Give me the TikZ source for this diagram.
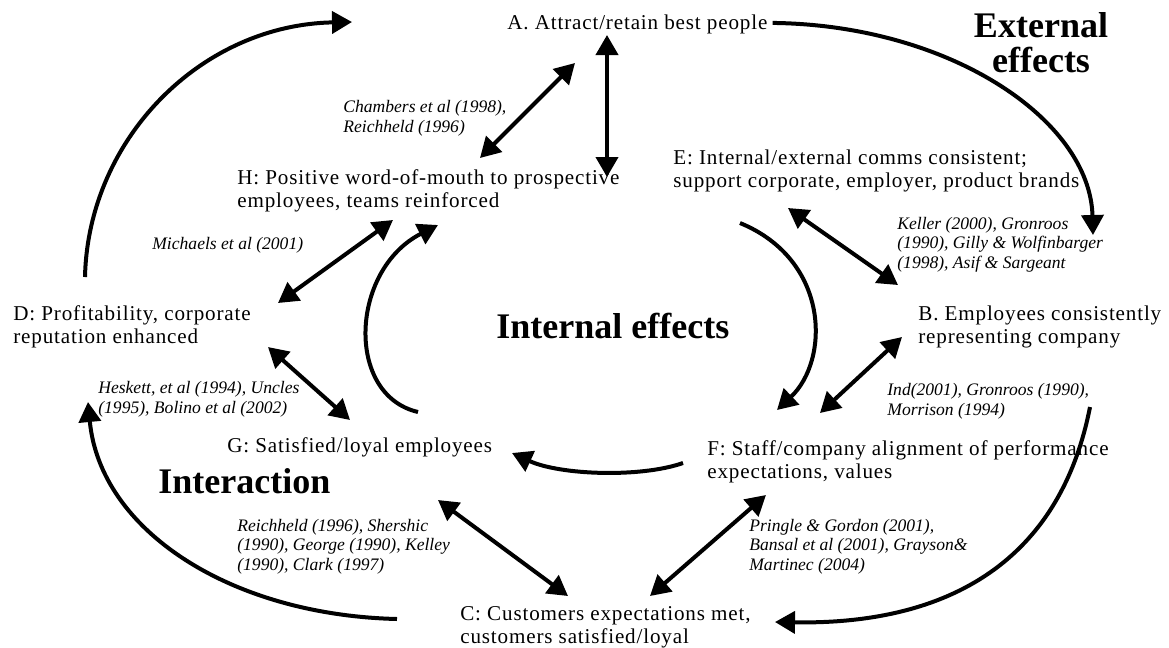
\documentclass[tikz,border=0pt]{standalone}
\usepackage{fontspec}
\setmainfont{Liberation Serif}[LetterSpace=4]
\newfontfamily\citefont{Liberation Serif}
\newfontfamily\headfont{Liberation Serif}
\usetikzlibrary{arrows.meta}

\begin{document}
\begin{tikzpicture}[x=0.2mm,y=-0.2mm,
  lbl/.style={inner sep=0pt,anchor=base west,align=left,font=\fontsize{12}{13}\selectfont},
  cite/.style={inner sep=0pt,anchor=base west,align=left,font=\citefont\itshape\fontsize{10}{11}\selectfont},
  head/.style={inner sep=0pt,anchor=base west,align=center,font=\headfont\bfseries\fontsize{20.5}{19.8}\selectfont},
  flow/.style={line width=0.8mm,-{Triangle[length=4mm,width=4.4mm]}},
  link/.style={flow,{Triangle[length=4mm,width=4.4mm]}-{Triangle[length=4mm,width=4.4mm]}}]
  \useasboundingbox (0,0) rectangle (1169,647);

  % the eight effects (base = last line)
  \node[lbl] (A) at (507,29) {A. Attract/retain best people};
  \node[lbl] (E) at (673,187) {E: Internal/external comms consistent;\\support corporate, employer, product brands};
  \node[lbl] (H) at (237,207) {H: Positive word-of-mouth to prospective\\employees, teams reinforced};
  \node[lbl] (D) at (13,343) {D: Profitability, corporate\\reputation enhanced};
  \node[lbl] (B) at (918,343) {B. Employees consistently\\representing company};
  \node[lbl] (G) at (227,452) {G: Satisfied/loyal employees};
  \node[lbl] (F) at (707,478) {F: Staff/company alignment of performance\\expectations, values};
  \node[lbl] (C) at (460,643) {C: Customers expectations met,\\customers satisfied/loyal};

  % headings
  \node[head,anchor=base] (ext) at (1041,72) {External\\effects};
  \node[head] (int) at (496,338) {Internal effects};
  \node[head] (inter) at (158,493) {Interaction};

  % sources
  \node[cite] (cAH) at (343,132) {Chambers et al (1998),\\Reichheld (1996)};
  \node[cite] (cEB) at (897,268) {Keller (2000), Gronroos\\(1990), Gilly \& Wolfinbarger\\(1998), Asif \& Sargeant};
  \node[cite] (cDH) at (152,249) {Michaels et al (2001)};
  \node[cite] (cDG) at (98,413) {Heskett, et al (1994), Uncles\\(1995), Bolino et al (2002)};
  \node[cite] (cBF) at (887,415) {Ind(2001), Gronroos (1990),\\Morrison (1994)};
  \node[cite] (cGC) at (237,570) {Reichheld (1996), Shershic\\(1990), George (1990), Kelley\\(1990), Clark (1997)};
  \node[cite] (cFC) at (749,570) {Pringle \& Gordon (2001),\\Bansal et al (2001), Grayson\&\\Martinec (2004)};

  % external loop
  \draw[flow] ([shift={(72,-66)}]D.base west) .. controls (88,140) and (200,25) .. ([shift={(-155,-7)}]A.base west);
  \draw[flow] ([shift={(5,-1)}]A.east) .. controls (950,25) and (1090,120) .. ([shift={(175,-108)}]B.base west);
  \draw[flow] ([shift={(172,64)}]B.base west) .. controls (1060,560) and (950,625) .. ([shift={(315,-21)}]C.base west);
  \draw[flow] ([shift={(-63,-24)}]C.base west) .. controls (230,615) and (100,530) .. ([shift={(75,59)}]D.base west);

  % internal loop
  \draw[flow] ([shift={(67,36)}]E.base west) .. controls (830,260) and (830,360) .. ([shift={(70,-68)}]F.base west);
  \draw[flow] ([shift={(-24,-15)}]F.base west) .. controls (640,478) and (560,475) .. ([shift={(285,1)}]G.base west);
  \draw[flow] ([shift={(191,-40)}]G.base west) .. controls (345,395) and (350,270) .. ([shift={(201,18)}]H.base west);

  % two-way links
  \draw[link] ([shift={(100,6)}]A.base west) -- ([shift={(370,-30)}]H.base west);
  \draw[link] ([shift={(68,34)}]A.base west) -- ([shift={(243,-49)}]H.base west);
  \draw[link] ([shift={(115,21)}]E.base west) -- ([shift={(-20,-58)}]B.base west);
  \draw[link] ([shift={(-16,-6)}]B.base west) -- ([shift={(113,-65)}]F.base west);
  \draw[link] ([shift={(265,-40)}]D.base west) -- ([shift={(156,13)}]H.base west);
  \draw[link] ([shift={(255,4)}]D.base west) -- ([shift={(123,-32)}]G.base west);
  \draw[link] ([shift={(211,48)}]G.base west) -- ([shift={(108,-47)}]C.base west);
  \draw[link] ([shift={(59,17)}]F.base west) -- ([shift={(190,-47)}]C.base west);
\end{tikzpicture}
\end{document}
